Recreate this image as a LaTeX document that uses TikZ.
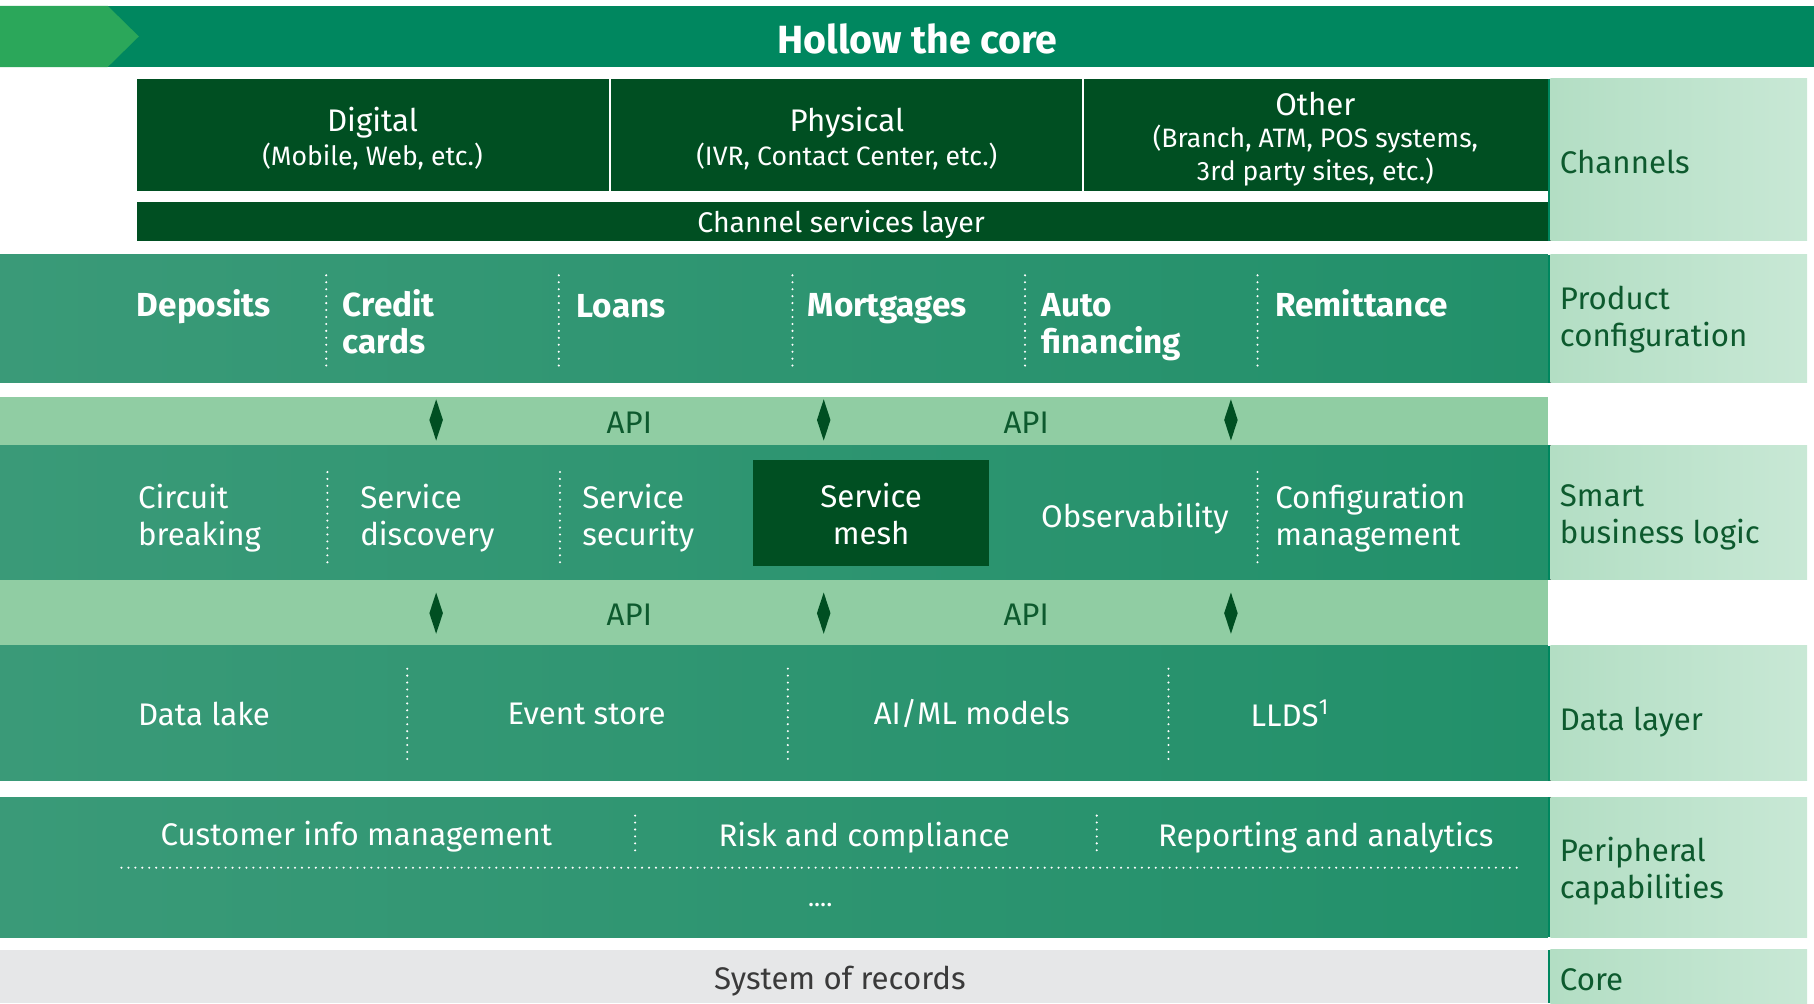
\documentclass[tikz,border=0pt]{standalone}
\usepackage{fontspec}
\setmainfont{Fira Sans}
\usetikzlibrary{shapes.geometric}
\definecolor{bannerG}{HTML}{00875F}
\definecolor{chevG}{HTML}{2BA75A}
\definecolor{darkG}{HTML}{004F22}
\definecolor{rowL}{HTML}{3A9A78}
\definecolor{rowR}{HTML}{22906A}
\definecolor{apiG}{HTML}{90CDA3}
\definecolor{labL}{HTML}{B3DEC4}
\definecolor{labR}{HTML}{C8E8D5}
\definecolor{labText}{HTML}{0D5A2E}
\definecolor{coreGray}{HTML}{E6E7E8}
\definecolor{coreText}{HTML}{3A3A3A}
\tikzset{
  rowbox/.style={left color=rowL, right color=rowR, draw=none},
  labbox/.style={left color=labL, right color=labR, draw=none},
  labtxt/.style={anchor=west, inner sep=0pt, text=labText, align=left, font=\fontsize{13.5}{16}\selectfont},
  itemb/.style={inner sep=0pt, text=white, align=left, font=\bfseries\fontsize{14.4}{16}\selectfont},
  item/.style={inner sep=0pt, text=white, align=left, font=\fontsize{13.5}{16}\selectfont},
  apitxt/.style={inner sep=0pt, text=labText, font=\fontsize{13.5}{16}\selectfont},
  subtxt/.style={text=white, inner sep=0pt, align=center, font=\fontsize{11.5}{14}\selectfont},
  sepline/.style={white, line width=1pt, dash pattern=on 0pt off 3pt, line cap=round},
  edgeline/.style={bannerG, line width=1.2pt},
  dmd/.style={diamond, fill=darkG, draw=none, inner sep=0pt, minimum width=6pt, minimum height=18pt, aspect=0.33}
}
\begin{document}
\begin{tikzpicture}[x=0.5pt,y=-0.5pt]
\useasboundingbox (0,0) rectangle (1568,867);
% banner
\fill[bannerG] (0,5) rectangle (1568,58);
\fill[chevG] (0,5) -- (93,5) -- (120,31.5) -- (93,58) -- (0,58) -- cycle;
\node[text=white, font=\bfseries\fontsize{17}{20}\selectfont, inner sep=0pt] (title) at (793,34) {Hollow the core};
% channels
\fill[darkG] (118,68) rectangle (1338,165);
\draw[white, line width=0.8pt] (527,68) -- (527,165) (936,68) -- (936,165);
\node[text=white, inner sep=0pt, font=\fontsize{13.5}{16}\selectfont] (dig) at (322,106) {Digital};
\node[subtxt] (digs) at (322,135) {(Mobile, Web, etc.)};
\node[text=white, inner sep=0pt, font=\fontsize{13.5}{16}\selectfont] (phy) at (732,106) {Physical};
\node[subtxt] (phys) at (732,135) {(IVR, Contact Center, etc.)};
\node[text=white, inner sep=0pt, font=\fontsize{13.5}{16}\selectfont] (oth) at (1137,90) {Other};
\node[subtxt] (oths) at (1137,134.5) {(Branch, ATM, POS systems,\\3rd party sites, etc.)};
\fill[darkG] (118,175) rectangle (1338,208);
\node[text=white, inner sep=0pt, font=\fontsize{12.3}{14}\selectfont] (csl) at (727,194) {Channel services layer};
\draw[edgeline] (1339,68) -- (1339,208);
\fill[labbox] (1340,68) rectangle (1562,208);
\node[labtxt] (lchan) at (1348,140) {Channels};
% product configuration
\fill[rowbox] (0,220) rectangle (1338,331);
\draw[edgeline] (1339,220) -- (1339,331);
\fill[labbox] (1340,220) rectangle (1562,331);
\node[labtxt] (lprod) at (1348,276) {Product\\configuration};
\node[itemb, anchor=west] (dep) at (118,265) {Deposits};
\node[itemb, anchor=west] (cc) at (296,278) {Credit\\cards};
\node[itemb, anchor=west] (loan) at (498,265) {Loans};
\node[itemb, anchor=west] (mort) at (698,267) {Mortgages};
\node[itemb, anchor=west] (auto) at (900,283) {Auto\\financing};
\node[itemb, anchor=west] (rem) at (1102,262) {Remittance};
\foreach \x in {282,483,685,886,1087} \draw[sepline] (\x,238) -- (\x,318);
% API row 1
\fill[apiG] (0,343) rectangle (1338,385);
\node[apitxt] (api1a) at (544,365) {API};
\node[apitxt] (api1b) at (887,365) {API};
\node[dmd] (d1a) at (377,363) {};
\node[dmd] (d1b) at (712,363) {};
\node[dmd] (d1c) at (1064,363) {};
% smart business logic
\fill[rowbox] (0,385) rectangle (1338,501);
\draw[edgeline] (1339,385) -- (1339,501);
\fill[labbox] (1340,385) rectangle (1562,501);
\node[labtxt] (lsmart) at (1348,447) {Smart\\business logic};
\node[item, anchor=west] (cb) at (119,448) {Circuit\\breaking};
\node[item, anchor=west] (sd) at (311,448) {Service\\discovery};
\node[item, anchor=west] (ss) at (503,448) {Service\\security};
\fill[darkG] (651,398) rectangle (855,489);
\node[item, align=center] (sm) at (753,444) {Service\\mesh};
\node[item] (obs) at (981,448) {Observability};
\node[item, anchor=west] (cm) at (1102,448) {Configuration\\management};
\foreach \x in {283,484,1087} \draw[sepline] (\x,408) -- (\x,488);
% API row 2
\fill[apiG] (0,501) rectangle (1338,558);
\node[apitxt] (api2a) at (544,531) {API};
\node[apitxt] (api2b) at (887,531) {API};
\node[dmd] (d2a) at (377,530) {};
\node[dmd] (d2b) at (712,530) {};
\node[dmd] (d2c) at (1064,530) {};
% data layer
\fill[rowbox] (0,558) rectangle (1338,675);
\draw[edgeline] (1339,558) -- (1339,675);
\fill[labbox] (1340,558) rectangle (1562,675);
\node[labtxt] (ldata) at (1348,624) {Data layer};
\node[item, anchor=west] (dl) at (119,617) {Data lake};
\node[item] (es) at (507,617) {Event store};
\node[item] (ai) at (840,617) {AI/ML models};
\node[item] (llds) at (1115,617) {LLDS\textsuperscript{1}};
\foreach \x in {352,681,1010} \draw[sepline] (\x,578) -- (\x,660);
% peripheral
\fill[rowbox] (0,689) rectangle (1338,810);
\draw[edgeline] (1339,689) -- (1339,810);
\fill[labbox] (1340,689) rectangle (1562,810);
\node[labtxt] (lper) at (1348,753) {Peripheral\\capabilities};
\node[item] (cim) at (308,723) {Customer info management};
\node[item] (rc) at (747,724) {Risk and compliance};
\node[item] (ra) at (1146,724) {Reporting and analytics};
\foreach \x in {549,948} \draw[sepline] (\x,705) -- (\x,740);
\coordinate (hl) at (105,750);
\coordinate (hr) at (1312,750);
\draw[sepline] (hl) -- (hr);
\node[item, font=\fontsize{11}{14}\selectfont] (more) at (709,782) {....};
% core
\fill[coreGray] (0,821) rectangle (1338,867);
\draw[edgeline] (1339,821) -- (1339,867);
\fill[labbox] (1340,821) rectangle (1562,867);
\node[labtxt] (lcore) at (1348,847) {Core};
\node[inner sep=0pt, text=coreText, font=\fontsize{13.5}{16}\selectfont] (sor) at (726,848) {System of records};
\end{tikzpicture}
\end{document}
